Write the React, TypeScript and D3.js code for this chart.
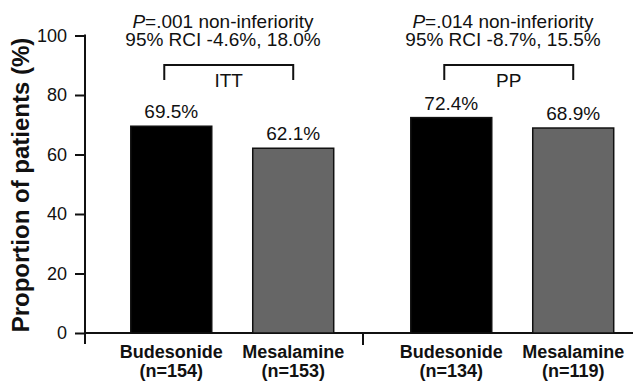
import React, { useRef, useEffect } from 'react';
import * as d3 from 'd3';

// data
const groups = ["ITT", "PP"];
const arms = ["Budesonide", "Mesalamine"];
const ittValues = [69.5, 62.1];
const ppValues = [72.4, 68.9];
const ittN = [154, 153];
const ppN = [134, 119];
const pValues = [".001", ".014"];
const rciLabels = ["95% RCI -4.6%, 18.0%", "95% RCI -8.7%, 15.5%"];
const yTicks = [0, 20, 40, 60, 80, 100];

const FONT = "'Liberation Sans', Arial, Helvetica, sans-serif";
const armColors = ["#000000", "#666666"];

const App = () => {
    const svgRef = useRef<SVGSVGElement>(null);
    useEffect(() => {
        const svg = d3.select(svgRef.current);
        svg.selectAll("*").remove();
        svg.style("font-family", FONT);

        const y = d3.scaleLinear().domain([0, 100]).range([333, 35.5]);
        const x0 = d3.scaleBand().domain(groups).range([83, 643]);
        const x1 = d3.scaleBand().domain(arms)
            .range([0, x0.bandwidth()])
            .paddingInner(0.336)
            .paddingOuter(0.316)
            .align(0.62);

        const rows = groups.flatMap((g, i) => arms.map((a, j) => ({
            group: g,
            arm: a,
            idx: j,
            value: i === 0 ? ittValues[j] : ppValues[j],
            n: i === 0 ? ittN[j] : ppN[j],
        })));
        const cx = (d: any) => x0(d.group)! + x1(d.arm)! + x1.bandwidth() / 2;

        // y axis
        const yAxis = svg.append("g")
            .attr("transform", "translate(85,0)")
            .call(d3.axisLeft(y).tickValues(yTicks).tickSize(10).tickSizeOuter(0).tickPadding(8));
        yAxis.select(".domain").remove();
        yAxis.selectAll("line").attr("stroke", "#111").attr("stroke-width", 2);
        yAxis.selectAll("text").attr("font-size", 18).attr("fill", "#111").attr("font-family", FONT);

        svg.append("line")
            .attr("x1", 85).attr("x2", 85)
            .attr("y1", y(100) - 1).attr("y2", 344)
            .attr("stroke", "#111").attr("stroke-width", 2);
        svg.append("line")
            .attr("x1", 84).attr("x2", 633)
            .attr("y1", y(0)).attr("y2", y(0))
            .attr("stroke", "#111").attr("stroke-width", 2);
        // divider tick between the two analyses
        svg.append("line")
            .attr("x1", x0("PP")!).attr("x2", x0("PP")!)
            .attr("y1", y(0)).attr("y2", 345)
            .attr("stroke", "#111").attr("stroke-width", 2);

        // bars
        svg.selectAll("rect.bar")
            .data(rows)
            .join("rect")
            .attr("class", "bar")
            .attr("x", d => x0(d.group)! + x1(d.arm)!)
            .attr("y", d => y(d.value))
            .attr("width", x1.bandwidth())
            .attr("height", d => y(0) - y(d.value))
            .attr("fill", d => armColors[d.idx])
            .attr("stroke", "#111")
            .attr("stroke-width", 1.5);

        svg.selectAll("text.val")
            .data(rows)
            .join("text")
            .attr("class", "val")
            .attr("x", cx)
            .attr("y", d => y(d.value) - 8)
            .attr("text-anchor", "middle")
            .attr("font-size", 19)
            .attr("fill", "#111")
            .text(d => d.value.toFixed(1) + "%");

        // category labels
        svg.selectAll("text.cat")
            .data(rows)
            .join("text")
            .attr("class", "cat")
            .attr("x", cx)
            .attr("y", 358)
            .attr("text-anchor", "middle")
            .attr("font-size", 18)
            .attr("font-weight", "bold")
            .attr("fill", "#111")
            .text(d => d.arm);
        svg.selectAll("text.n")
            .data(rows)
            .join("text")
            .attr("class", "n")
            .attr("x", cx)
            .attr("y", 377)
            .attr("text-anchor", "middle")
            .attr("font-size", 18)
            .attr("font-weight", "bold")
            .attr("fill", "#111")
            .text(d => `(n=${d.n})`);

        // brackets + headers
        groups.forEach((g, i) => {
            const xl = x0(g)! + x1(arms[0])! + x1.bandwidth() / 2 - 7;
            const xr = x0(g)! + x1(arms[1])! + x1.bandwidth() / 2;
            svg.append("path")
                .attr("d", `M${xl},80V65H${xr}V80`)
                .attr("fill", "none")
                .attr("stroke", "#111")
                .attr("stroke-width", 2);
            svg.append("text")
                .attr("x", (xl + xr) / 2)
                .attr("y", 87)
                .attr("text-anchor", "middle")
                .attr("font-size", 19)
                .attr("fill", "#111")
                .text(g);

            const gc = x0(g)! + x0.bandwidth() / 2;
            const h1 = svg.append("text")
                .attr("x", gc)
                .attr("y", 28)
                .attr("text-anchor", "middle")
                .attr("font-size", 19)
                .attr("fill", "#111");
            h1.append("tspan").attr("font-style", "italic").text("P");
            h1.append("tspan").text(`=${pValues[i]} non-inferiority`);
            svg.append("text")
                .attr("x", gc)
                .attr("y", 46)
                .attr("text-anchor", "middle")
                .attr("font-size", 19)
                .attr("fill", "#111")
                .text(rciLabels[i]);
        });

        // y title
        svg.append("text")
            .attr("transform", "translate(29,185) rotate(-90)")
            .attr("text-anchor", "middle")
            .attr("font-size", 24)
            .attr("font-weight", "bold")
            .attr("fill", "#111")
            .text("Proportion of patients (%)");
    }, []);

    return <svg ref={svgRef} width={633} height={382} style={{ position: "absolute", left: 0, top: 0, background: "#fff" }} />;
};

export default App;
